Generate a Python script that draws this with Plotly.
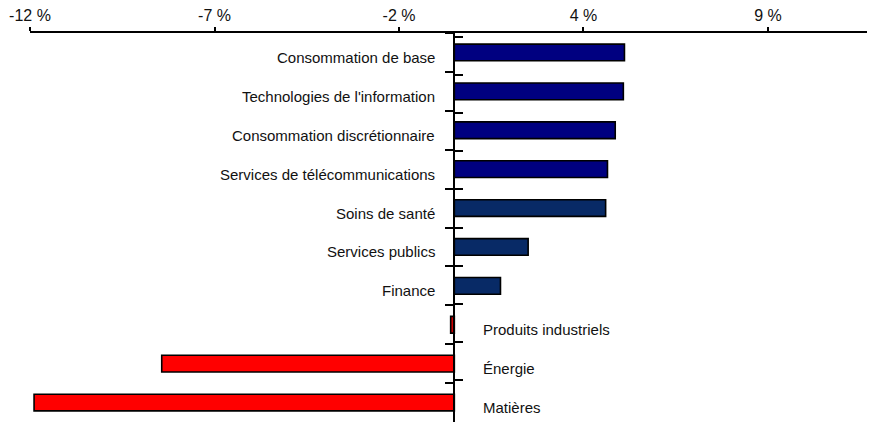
import plotly.graph_objects as go

categories = [
    "Consommation de base",
    "Technologies de l'information",
    "Consommation discrétionnaire",
    "Services de télécommunications",
    "Soins de santé",
    "Services publics",
    "Finance",
    "Produits industriels",
    "Énergie",
    "Matières",
]
values = [4.61, 4.58, 4.36, 4.15, 4.10, 2.00, 1.25, -0.10, -7.93, -11.39]
bar_colors = ["#000080", "#000080", "#000080", "#000080",
              "#082a66", "#082a66", "#082a66",
              "#cc0000", "#ff0000", "#ff0000"]

tick_vals = [-11.5, -6.5, -1.5, 3.5, 8.5]
tick_text = ["-12 %", "-7 %", "-2 %", "4 %", "9 %"]

x_range = [-11.5, 11.4]
zero_pos = (0 - x_range[0]) / (x_range[1] - x_range[0])

FONT = "Liberation Sans, Arial, sans-serif"

fig = go.Figure()
fig.add_trace(go.Bar(
    x=values, y=categories, orientation="h",
    marker=dict(color=bar_colors, line=dict(color="black", width=1.6)),
    width=0.43, hoverinfo="skip", showlegend=False,
))
# invisible helper trace for the second (inside-tick) category axis
fig.add_trace(go.Scatter(
    x=[0] * len(categories), y=categories, yaxis="y2", mode="markers",
    marker=dict(opacity=0), hoverinfo="skip", showlegend=False,
))

annotations = []
for c, v in zip(categories, values):
    if v >= 0:
        annotations.append(dict(x=0, y=c, xref="x", yref="y", text=c, showarrow=False,
                                xanchor="right", xshift=-17, yshift=-5,
                                font=dict(family=FONT, size=15, color="#111111")))
    else:
        annotations.append(dict(x=0, y=c, xref="x", yref="y", text=c, showarrow=False,
                                xanchor="left", xshift=27, yshift=-5,
                                font=dict(family=FONT, size=15, color="#111111")))

yaxis_common = dict(
    type="category", categoryorder="array", categoryarray=categories,
    autorange="reversed", showticklabels=False, showgrid=False,
    tickson="boundaries", ticklen=8, tickwidth=2, tickcolor="black",
    showline=True, linecolor="black", linewidth=2,
    anchor="free", position=zero_pos, zeroline=False,
)

fig.update_layout(
    width=867, height=416,
    margin=dict(l=22, r=0, t=25, b=2),
    paper_bgcolor="white", plot_bgcolor="white",
    font=dict(family=FONT, size=16, color="#111111"),
    xaxis=dict(
        side="top", range=x_range, tickmode="array",
        tickvals=tick_vals, ticktext=tick_text,
        ticks="outside", ticklen=4, tickwidth=2, tickcolor="black",
        showline=True, linecolor="black", linewidth=2,
        showgrid=False, zeroline=False,
        tickfont=dict(family=FONT, size=16, color="#111111"),
    ),
    yaxis=dict(ticks="outside", **yaxis_common),
    yaxis2=dict(ticks="inside", overlaying="y", side="left", **yaxis_common),
    annotations=annotations,
    bargap=0.57,
)

fig.write_html("out.html")
